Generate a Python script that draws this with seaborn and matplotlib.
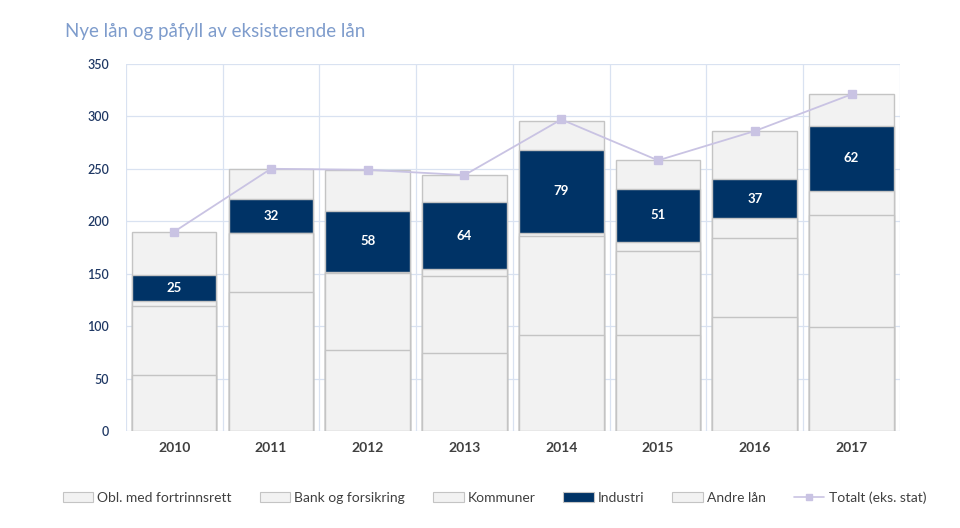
import numpy as np
import pandas as pd
import matplotlib
matplotlib.use("Agg")
import matplotlib.pyplot as plt
import seaborn as sns
from matplotlib.patches import Patch
from matplotlib.lines import Line2D

# data
years = ["2010", "2011", "2012", "2013", "2014", "2015", "2016", "2017"]
obl = [53, 133, 77, 74, 92, 92, 109, 99]
bank = [66, 56, 74, 74, 94, 80, 75, 107]
kommuner = [5, 0, 1, 6, 3, 8, 19, 23]
industri = [25, 32, 58, 64, 79, 51, 37, 62]
andre = [41, 29, 39, 26, 28, 27, 46, 30]
totalt = [190, 250, 249, 244, 297, 258, 286, 321]

series_names = ["Obl. med fortrinnsrett", "Bank og forsikring", "Kommuner", "Industri", "Andre lån"]

GREY = "#f2f2f2"
EDGE = "#c4c4c4"
NAVY = "#003366"
LINE = "#c9c3e3"
GRID = "#d9e2f1"

sns.set_style("white")
plt.rcParams["font.family"] = ["Lato", "DejaVu Sans"]

df = pd.DataFrame({"year": years, "Obl": obl, "Bank": bank, "Kommuner": kommuner,
                   "Industri": industri, "Andre": andre})
layers = ["Obl", "Bank", "Kommuner", "Industri", "Andre"]
colors = [GREY, GREY, GREY, NAVY, GREY]
cum = df[layers].cumsum(axis=1)

fig = plt.figure(figsize=(9.6, 5.28), dpi=100)
ax = fig.add_axes([0.131, 0.1837, 0.8065, 0.6953])

# cumulative bars, top layer first so lower layers paint over
for name, col in zip(reversed(layers), reversed(colors)):
    sns.barplot(x=df["year"], y=cum[name], color=col, saturation=1, width=0.875,
                edgecolor=EDGE, linewidth=1.0, ax=ax, zorder=2)

sns.pointplot(x=years, y=totalt, color=LINE, markers="s", markersize=5.5,
              linewidth=1.3, ax=ax, zorder=3)

# Industri values
ind_bottom = cum["Kommuner"].values
for i, v in enumerate(industri):
    ax.text(i, ind_bottom[i] + v / 2, str(v), ha="center", va="center",
            color="white", fontsize=9.5, fontweight="bold", zorder=4)

ax.set_xlim(-0.5, 7.5)
ax.set_ylim(0, 350)
ax.set_yticks(range(0, 351, 50))
ax.set_xticks(range(len(years)))
ax.set_xticks(np.arange(-0.5, len(years), 1), minor=True)
ax.set_xticklabels(years, fontsize=10, fontweight="bold", color="#404040")
for lbl in ax.get_yticklabels():
    lbl.set_fontweight("semibold")
ax.tick_params(axis="y", labelsize=9, labelcolor="#1f3864", length=0, pad=12)
ax.tick_params(axis="x", which="both", length=0, pad=8)
ax.grid(axis="y", color=GRID, linewidth=0.9, zorder=0)
ax.grid(axis="x", which="minor", color=GRID, linewidth=0.9, zorder=0)
ax.set_axisbelow(True)
ax.set_xlabel("")
ax.set_ylabel("")
for s in ax.spines.values():
    s.set_visible(False)

fig.text(0.068, 0.94, "Nye lån og påfyll av eksisterende lån", fontsize=13.5,
         color="#7e9ccc", ha="left", va="center")

handles = [Patch(facecolor=c, edgecolor=EDGE, linewidth=0.8) for c in colors]
handles.append(Line2D([0], [0], color=LINE, marker="s", markersize=4, linewidth=1.2))
labels = series_names + ["Totalt (eks. stat)"]
fig.legend(handles, labels, loc="center", bbox_to_anchor=(0.515, 0.058), ncol=6,
           frameon=False, fontsize=10, handlelength=2.2, handleheight=0.7,
           handletextpad=0.3, columnspacing=2.0, labelcolor="#404040")

fig.savefig("out.png", dpi=100)
